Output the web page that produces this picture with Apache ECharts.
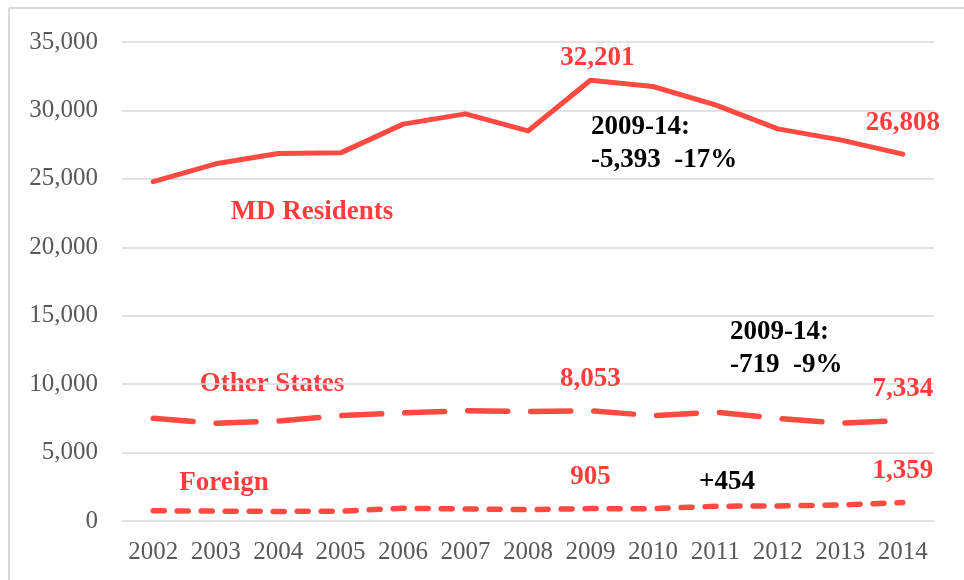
<!DOCTYPE html>
<html>
<head>
<meta charset="utf-8">
<script src="https://cdn.jsdelivr.net/npm/echarts@6/dist/echarts.min.js"></script>
<style>
  html, body { margin: 0; padding: 0; background: #fff; }
  #chart { width: 964px; height: 580px; }
</style>
</head>
<body>
<div id="chart"></div>
<script>
const years = ["2002", "2003", "2004", "2005", "2006", "2007", "2008", "2009", "2010", "2011", "2012", "2013", "2014"];
const mdResidents = [24800, 26100, 26850, 26900, 29000, 29750, 28500, 32201, 31750, 30400, 28650, 27850, 26808];
const otherStates = [7500, 7150, 7300, 7700, 7900, 8050, 8000, 8053, 7700, 7950, 7500, 7150, 7334];
const foreign = [750, 720, 700, 720, 930, 880, 830, 905, 900, 1080, 1100, 1170, 1359];
const labelled = [7, 12]; // 2009 and 2014 get a value label

const RED = "#FF4A42";
const TXT_RED = "#FF3D3D";
const serif = "'Liberation Serif', 'DejaVu Serif', serif";

const chart = echarts.init(document.getElementById("chart"));

// turn a value array into items, showing a label on the labelled points
const withLabels = (arr, offsets) =>
  arr.map((v, i) => {
    const k = labelled.indexOf(i);
    if (k < 0) return v;
    return {
      value: v,
      label: {
        show: true,
        position: "top",
        distance: 18,
        offset: offsets[k],
        formatter: (p) => p.value.toLocaleString("en-US"),
        color: TXT_RED,
        fontFamily: serif,
        fontWeight: "bold",
        fontSize: 27,
      },
    };
  });

const text = (str, x, y, color, align) => ({
  type: "text",
  x: x,
  y: y,
  style: {
    text: str,
    fill: color,
    font: "bold 27px " + serif,
    textAlign: align || "left",
    textVerticalAlign: "middle",
  },
});

const lineSeries = (name, data, lineStyle) => ({
  name: name,
  type: "line",
  data: data,
  symbol: "circle",
  symbolSize: 0,
  itemStyle: { color: RED },
  lineStyle: Object.assign({ color: RED, cap: "round", join: "round" }, lineStyle),
});

const option = {
  backgroundColor: "#fff",
  animation: false,
  grid: { left: 122, right: 30, top: 42, bottom: 59 },
  xAxis: {
    type: "category",
    data: years,
    boundaryGap: true,
    axisLine: { show: false },
    axisTick: { show: false },
    axisLabel: {
      interval: 0,
      color: "#595959",
      fontFamily: serif,
      fontSize: 25,
      margin: 19,
    },
  },
  yAxis: {
    type: "value",
    min: 0,
    max: 35000,
    interval: 5000,
    axisLine: { show: false },
    axisTick: { show: false },
    splitLine: { lineStyle: { color: "#D9D9D9", width: 1.5 } },
    axisLabel: {
      color: "#595959",
      fontFamily: serif,
      fontSize: 25,
      margin: 24,
      formatter: (v) => v.toLocaleString("en-US"),
    },
  },
  series: [
    lineSeries("MD Residents", withLabels(mdResidents, [[7, 9], [0, 0]]), { width: 5 }),
    lineSeries("Other States", withLabels(otherStates, [[0, 0], [0, 0]]), { width: 5.5, type: [40, 23] }),
    lineSeries("Foreign", withLabels(foreign, [[0, 0], [0, 0]]), { width: 5.5, type: [11, 13] }),
  ],
  graphic: [
    { type: "line", shape: { x1: 9, y1: 8, x2: 9, y2: 580 }, style: { stroke: "#D9D9D9", lineWidth: 2 } },
    { type: "line", shape: { x1: 9, y1: 8, x2: 964, y2: 8 }, style: { stroke: "#D9D9D9", lineWidth: 2 } },
    text("MD Residents", 312, 212, TXT_RED, "center"),
    text("Other States", 272, 384, TXT_RED, "center"),
    text("Foreign", 224, 483, TXT_RED, "center"),
    text("2009-14:", 591, 127, "#000"),
    text("-5,393  -17%", 591, 160, "#000"),
    text("2009-14:", 730, 332, "#000"),
    text("-719  -9%", 730, 365, "#000"),
    text("+454", 727, 482, "#000", "center"),
  ],
};

chart.setOption(option);
</script>
</body>
</html>
